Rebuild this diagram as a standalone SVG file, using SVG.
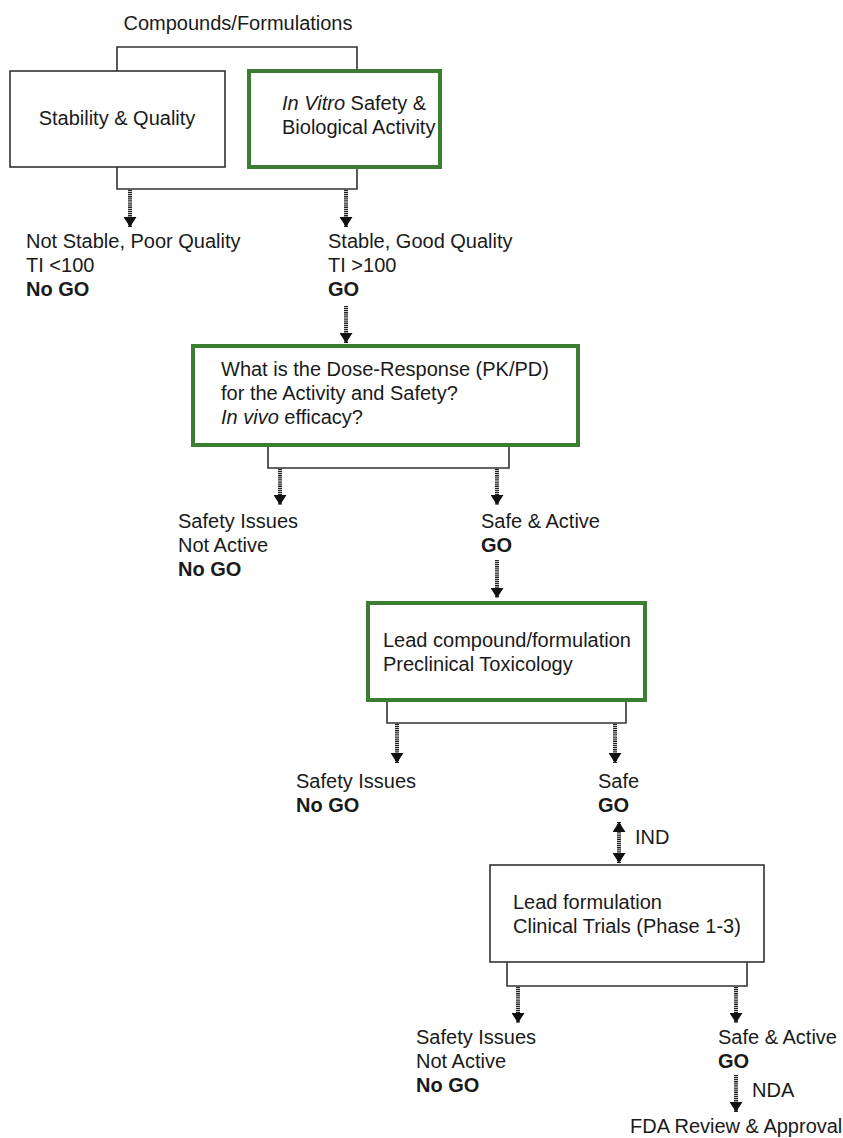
<svg xmlns="http://www.w3.org/2000/svg" width="843" height="1138" viewBox="0 0 843 1138">
<defs>
<style>
text{font-family:"Liberation Sans",Arial,sans-serif;font-size:20px;fill:#1a1a1a}
.b{font-weight:bold}
.i{font-style:italic}
.box{fill:#fff;stroke:#333;stroke-width:1.6}
.gbox{fill:#fff;stroke:#3b7d31;stroke-width:4}
.br{fill:none;stroke:#333;stroke-width:1.6}
.arr{stroke:#222;stroke-width:4;stroke-dasharray:1.2 0.7;fill:none;marker-end:url(#ah)}
.dbl{marker-start:url(#ah)}
</style>
<marker id="ah" viewBox="0 0 10 13" refX="10" refY="6.5" markerWidth="10" markerHeight="13" orient="auto-start-reverse" markerUnits="userSpaceOnUse">
<path d="M0,0 L10,6.5 L0,13 z" fill="#111"/>
</marker>
</defs>
<rect width="843" height="1138" fill="#fff"/>

<g id="connectors">
<path class="br" d="M117,71 V47 H357 V71"/>
<path class="br" d="M117,167 V189 H357 V167"/>
<line class="arr" x1="130" y1="190" x2="130" y2="227"/>
<line class="arr" x1="346" y1="190" x2="346" y2="227"/>
<line class="arr" x1="346" y1="306" x2="346" y2="343"/>
<path class="br" d="M268,445 V468 H509 V445"/>
<line class="arr" x1="280" y1="469" x2="280" y2="505"/>
<line class="arr" x1="497" y1="469" x2="497" y2="505"/>
<line class="arr" x1="497" y1="560" x2="497" y2="598"/>
<path class="br" d="M387,700 V723 H626 V700"/>
<line class="arr" x1="397" y1="724" x2="397" y2="763"/>
<line class="arr" x1="615" y1="724" x2="615" y2="763"/>
<line class="arr dbl" x1="619" y1="822" x2="619" y2="863"/>
<path class="br" d="M507,962 V986 H747 V962"/>
<line class="arr" x1="518" y1="987" x2="518" y2="1023"/>
<line class="arr" x1="736" y1="987" x2="736" y2="1023"/>
<line class="arr" x1="736" y1="1075" x2="736" y2="1112"/>
</g>

<g id="top-label"><text x="238" y="30" text-anchor="middle">Compounds/Formulations</text></g>

<g id="stability">
<rect class="box" x="10" y="71" width="215" height="96"/>
<text x="117" y="125" text-anchor="middle">Stability &amp; Quality</text>
</g>

<g id="invitro">
<rect class="gbox" x="249" y="71" width="191" height="96"/>
<text x="282" y="110"><tspan class="i">In Vitro</tspan> Safety &amp;</text>
<text x="282" y="134">Biological Activity</text>
</g>

<g id="nogo1">
<text x="26" y="248">Not Stable, Poor Quality</text>
<text x="26" y="272">TI &lt;100</text>
<text x="26" y="296" class="b">No GO</text>
</g>

<g id="go1">
<text x="328" y="248">Stable, Good Quality</text>
<text x="328" y="272">TI &gt;100</text>
<text x="328" y="296" class="b">GO</text>
</g>

<g id="doseresponse">
<rect class="gbox" x="193" y="346" width="385" height="99"/>
<text x="221" y="376">What is the Dose-Response (PK/PD)</text>
<text x="221" y="400">for the Activity and Safety?</text>
<text x="221" y="424"><tspan class="i">In vivo</tspan> efficacy?</text>
</g>

<g id="nogo2">
<text x="178" y="528">Safety Issues</text>
<text x="178" y="552">Not Active</text>
<text x="178" y="576" class="b">No GO</text>
</g>

<g id="go2">
<text x="481" y="528">Safe &amp; Active</text>
<text x="481" y="552" class="b">GO</text>
</g>

<g id="preclinical">
<rect class="gbox" x="368" y="603" width="277" height="97"/>
<text x="383" y="647">Lead compound/formulation</text>
<text x="383" y="671">Preclinical Toxicology</text>
</g>

<g id="nogo3">
<text x="296" y="788">Safety Issues</text>
<text x="296" y="812" class="b">No GO</text>
</g>

<g id="go3">
<text x="598" y="788">Safe</text>
<text x="598" y="812" class="b">GO</text>
<text x="635" y="844">IND</text>
</g>

<g id="clinical">
<rect class="box" x="490" y="865" width="274" height="97"/>
<text x="513" y="909">Lead formulation</text>
<text x="513" y="933">Clinical Trials (Phase 1-3)</text>
</g>

<g id="nogo4">
<text x="416" y="1044">Safety Issues</text>
<text x="416" y="1068">Not Active</text>
<text x="416" y="1092" class="b">No GO</text>
</g>

<g id="go4">
<text x="718" y="1044">Safe &amp; Active</text>
<text x="718" y="1068" class="b">GO</text>
<text x="752" y="1097">NDA</text>
</g>

<g id="fda">
<text x="630" y="1133">FDA Review &amp; Approval</text>
</g>
</svg>
